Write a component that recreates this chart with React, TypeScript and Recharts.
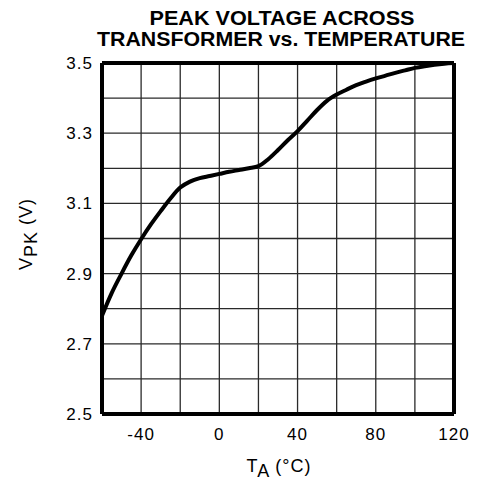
import { LineChart, Line, XAxis, YAxis, ReferenceLine } from "recharts";

// Peak voltage across transformer vs. ambient temperature
const TEMP_C = [-60, -55, -50, -45, -40, -35, -30, -25, -20, -15, -10, -5, 0, 5, 10, 15, 20, 25, 30, 35, 40, 45, 50, 55, 60, 65, 70, 75, 80, 85, 90, 95, 100, 105, 110, 115, 120];
const VPK = [2.78, 2.845, 2.9, 2.952, 2.998, 3.04, 3.078, 3.114, 3.145, 3.162, 3.172, 3.178, 3.184, 3.19, 3.195, 3.2, 3.206, 3.226, 3.252, 3.28, 3.306, 3.336, 3.366, 3.392, 3.41, 3.424, 3.437, 3.447, 3.456, 3.464, 3.472, 3.479, 3.486, 3.491, 3.495, 3.498, 3.5];

const X_TICKS = [-40, 0, 40, 80, 120];
const Y_TICKS = [2.5, 2.7, 2.9, 3.1, 3.3, 3.5];
const X_GRID = [-40, -20, 0, 20, 40, 60, 80, 100];
const Y_GRID = [2.6, 2.7, 2.8, 2.9, 3.0, 3.1, 3.2, 3.3, 3.4];

const data = TEMP_C.map((t, i) => ({ t, v: VPK[i] }));

const FONT = "'Liberation Sans', Arial, Helvetica, sans-serif";
const INK = "#000";
const GRID = "#2a2a2a";
const tickStyle = { fill: INK, fontSize: 17, fontFamily: FONT, letterSpacing: 1 };

export default function App() {
  return (
    <div style={{ position: "absolute", left: 0, top: 0, width: 487, height: 484, background: "#fff" }}>
      <LineChart width={487} height={484} data={data} margin={{ top: 63, right: 33, bottom: 40, left: 42 }}>
        <XAxis
          dataKey="t"
          type="number"
          domain={[-60, 120]}
          ticks={X_TICKS}
          allowDataOverflow
          axisLine={false}
          tickLine={false}
          tickSize={0}
          tickMargin={14}
          height={30}
          tick={tickStyle}
        />
        <YAxis
          type="number"
          domain={[2.5, 3.5]}
          ticks={Y_TICKS}
          allowDataOverflow
          axisLine={false}
          tickLine={false}
          tickSize={0}
          tickMargin={9}
          width={60}
          tick={tickStyle}
          tickFormatter={(v: number) => v.toFixed(1)}
        />
        {X_GRID.map((x) => (
          <ReferenceLine key={"gx" + x} x={x} stroke={GRID} strokeWidth={1.3} />
        ))}
        {Y_GRID.map((y) => (
          <ReferenceLine key={"gy" + y} y={y} stroke={GRID} strokeWidth={1.3} />
        ))}
        <Line
          type="monotone"
          dataKey="v"
          stroke={INK}
          strokeWidth={4}
          dot={false}
          activeDot={false}
          isAnimationActive={false}
        />
        <ReferenceLine x={-60} stroke={INK} strokeWidth={4} />
        <ReferenceLine x={120} stroke={INK} strokeWidth={4} />
        <ReferenceLine y={2.5} stroke={INK} strokeWidth={4} />
        <ReferenceLine y={3.5} stroke={INK} strokeWidth={4} />
      </LineChart>
      <svg
        width={487}
        height={484}
        style={{ position: "absolute", left: 0, top: 0, pointerEvents: "none" }}
        fontFamily={FONT}
      >
        <text x={282} y={25} textAnchor="middle" fontWeight="bold" fontSize={19.5} textLength={265} lengthAdjust="spacingAndGlyphs">
          PEAK VOLTAGE ACROSS
        </text>
        <text x={281} y={45.5} textAnchor="middle" fontWeight="bold" fontSize={19.5} textLength={368} lengthAdjust="spacingAndGlyphs">
          TRANSFORMER vs. TEMPERATURE
        </text>
        <text x={279} y={472} textAnchor="middle" fontSize={18} letterSpacing={1}>
          T<tspan dy={5}>A</tspan>
          <tspan dy={-5}> (°C)</tspan>
        </text>
        <text x={32} y={234} transform="rotate(-90, 32, 234)" textAnchor="middle" fontSize={18} letterSpacing={1}>
          V<tspan dy={5}>PK</tspan>
          <tspan dy={-5}> (V)</tspan>
        </text>
      </svg>
    </div>
  );
}
